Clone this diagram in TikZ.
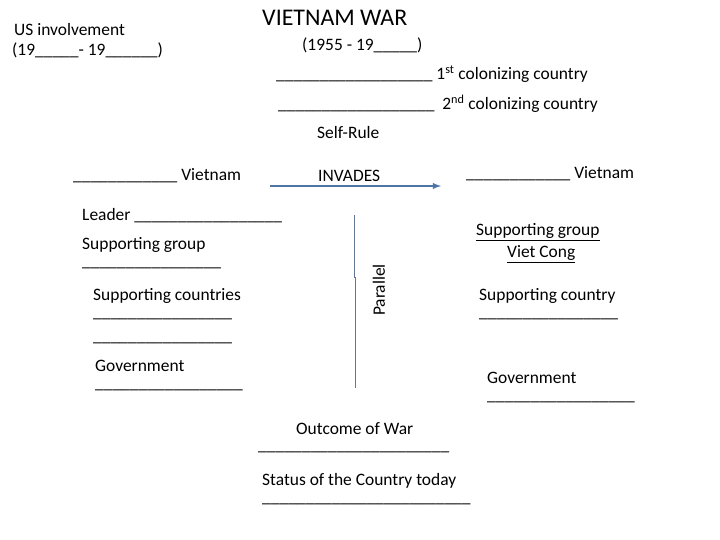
\documentclass[tikz,border=0pt]{standalone}
\usepackage{fontspec}
\setmainfont{Carlito}
\begin{document}
\begin{tikzpicture}[x=1bp,y=-1bp,
 t/.style={anchor=west,inner sep=0pt,font=\fontsize{17.5}{20}\selectfont}]
\useasboundingbox (0,0) rectangle (720,540);
\node[anchor=west,inner sep=0pt,font=\fontsize{24}{27}\selectfont] (title) at (262,18) {VIETNAM WAR};
\node[t] (dates) at (302,45) {(1955 - 19\_\_\_\_\_)};
\node[t] (us1) at (14,30) {US involvement};
\node[t] (us2) at (12,50) {(19\_\_\_\_\_- 19\_\_\_\_\_\_)};
\node[t] (c1) at (276,74) {\_\_\_\_\_\_\_\_\_\_\_\_\_\_\_\_\_\_ 1\textsuperscript{st} colonizing country};
\node[t] (c2) at (278,104) {\_\_\_\_\_\_\_\_\_\_\_\_\_\_\_\_\_\_\ \ 2\textsuperscript{nd} colonizing country};
\node[t] (sr) at (317,133) {Self-Rule};
\node[t] (lv) at (73,176) {\_\_\_\_\_\_\_\_\_\_\_\_ Vietnam};
\node[t] (inv) at (318,176) {INVADES};
\node[t] (rv) at (466,174) {\_\_\_\_\_\_\_\_\_\_\_\_ Vietnam};
\coordinate (a1) at (270,186);
\coordinate (a2) at (441,186);
\draw[color={rgb,255:red,79;green,116;blue,166},line width=1.8pt,-latex] (a1) -- (a2);
\node[t] (ld) at (82,216) {Leader \_\_\_\_\_\_\_\_\_\_\_\_\_\_\_\_\_};
\node[t] (sg) at (82,245) {Supporting group};
\node[t] (sgb) at (82,268) {\_\_\_\_\_\_\_\_\_\_\_\_\_\_\_\_};
\node[t] (sc) at (93,296) {Supporting countries};
\node[t] (scb1) at (93,319) {\_\_\_\_\_\_\_\_\_\_\_\_\_\_\_\_};
\node[t] (scb2) at (93,343) {\_\_\_\_\_\_\_\_\_\_\_\_\_\_\_\_};
\node[t] (gv) at (95,366) {Government};
\node[t] (gvb) at (95,390) {\_\_\_\_\_\_\_\_\_\_\_\_\_\_\_\_\_};
\coordinate (v1) at (354,215);
\coordinate (v2) at (354,277);
\coordinate (v3) at (355,277);
\coordinate (v4) at (355,388);
\draw[color={rgb,255:red,100;green,120;blue,150},line width=0.8pt] (v1) -- (v2) -- (v3) -- (v4);
\node[rotate=90,inner sep=0pt,font=\fontsize{17.5}{20}\selectfont] (par) at (379,290) {Parallel};
\node[t] (rsg) at (476,232) {\underline{Supporting group}};
\node[t] (vc) at (507,254) {\underline{Viet Cong}};
\node[t] (rsc) at (479,296) {Supporting country};
\node[t] (rscb) at (479,319) {\_\_\_\_\_\_\_\_\_\_\_\_\_\_\_\_};
\node[t] (rg) at (487,378) {Government};
\node[t] (rgb) at (487,402) {\_\_\_\_\_\_\_\_\_\_\_\_\_\_\_\_\_};
\node[t] (ow) at (296,429) {Outcome of War};
\node[t] (owb) at (258,452) {\_\_\_\_\_\_\_\_\_\_\_\_\_\_\_\_\_\_\_\_\_\_};
\node[t] (st) at (262,481) {Status of the Country today};
\node[t] (stb) at (262,504) {\_\_\_\_\_\_\_\_\_\_\_\_\_\_\_\_\_\_\_\_\_\_\_\_};
\end{tikzpicture}
\end{document}
